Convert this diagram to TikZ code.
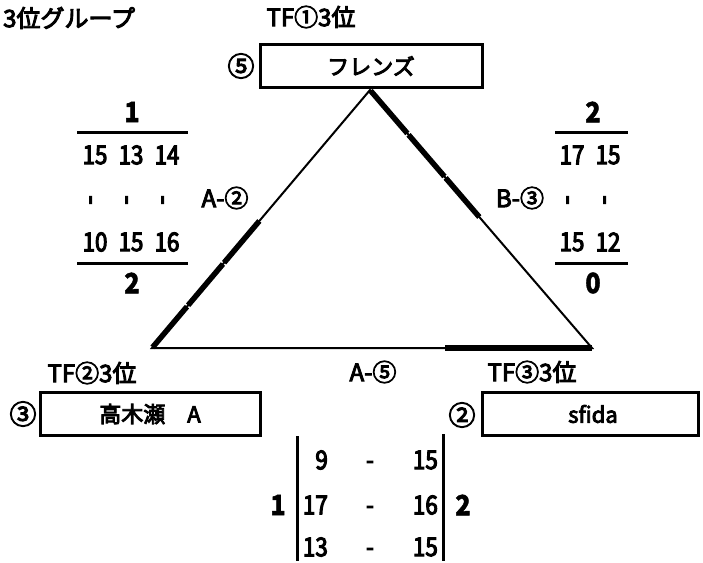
\documentclass[tikz,border=0pt]{standalone}
\usepackage{fontspec}
\newfontfamily\jp[FakeBold=4]{Noto Sans CJK JP}
\newfontfamily\jpn[FakeStretch=0.86,FakeBold=4]{Noto Sans CJK JP}
\newfontfamily\jpnb[FakeStretch=0.9,FakeBold=1.5]{Noto Sans CJK JP}
\usetikzlibrary{calc}
\newcommand\circd[1]{{\fontsize{24pt}{24pt}\selectfont #1}}
\tikzset{
  lbl/.style={font=\jp\fontsize{24pt}{24pt}\selectfont, inner sep=0pt},
  circ/.style={font=\jp\fontsize{27pt}{27pt}\selectfont, inner sep=0pt},
  num/.style={font=\jpn\fontsize{26pt}{26pt}\selectfont, inner sep=0pt},
  bnum/.style={font=\jpnb\bfseries\fontsize{28pt}{28pt}\selectfont, inner sep=0pt},
  team/.style={draw, line width=3pt, minimum height=43pt, inner sep=0pt,
               font=\jp\fontsize{22pt}{22pt}\selectfont},
  edge/.style={line width=2pt},
  heavy/.style={line width=5.5pt, line cap=butt},
  scoreline/.style={line width=3pt},
  tick/.style={font=\jp\fontsize{28pt}{28pt}\selectfont, inner sep=0pt}
}
\begin{document}
\begin{tikzpicture}[x=1pt,y=-1pt]
\useasboundingbox (0,0) rectangle (703,562);

% titles
\node[lbl, anchor=west] (title) at (3,18) {3位グループ};
\node[lbl] (tf1) at (311,17) {TF\circd{①}3位};
\node[lbl] (tf2) at (92,373) {TF\circd{②}3位};
\node[lbl] (tf3) at (532,372) {TF\circd{③}3位};

% teams
\node[team, minimum width=222pt] (fr) at (371,66) {フレンズ};
\node[team, minimum width=220pt] (tk) at (150,414) {高木瀬　A};
\node[team, minimum width=216pt] (sf) at (590,414) {\hspace*{6pt}sfida};
\node[circ] (c5) at (241,66) {⑤};
\node[circ] (c3) at (23,414) {③};
\node[circ] (c2) at (462,415) {②};

% triangle
\coordinate (T) at (370,90);
\coordinate (L) at (152,348);
\coordinate (R) at (592,348);
\draw[edge, line join=miter] (T) -- (L) -- (R) -- cycle;
\foreach \a/\b in {0/0.163, 0.163/0.328, 0.328/0.495}
  \draw[heavy, shorten <=0.9pt, shorten >=0.9pt] ($(L)!\a!(T)$) -- ($(L)!\b!(T)$);
\foreach \a/\b in {0/0.171, 0.171/0.338, 0.338/0.495}
  \draw[heavy, shorten <=0.9pt, shorten >=0.9pt] ($(T)!\a!(R)$) -- ($(T)!\b!(R)$);
\draw[heavy] ($(R)!0.334!(L)$) -- (R);

% match labels
\node[lbl] (mA2) at (225,198) {A-\circd{②}};
\node[lbl] (mB3) at (520,198) {B-\circd{③}};
\node[lbl] (mA5) at (373,372) {A-\circd{⑤}};

% left score block
\node[bnum] (ls1) at (132,112) {1};
\draw[scoreline] (77,132) -- (188,132);
\node[num] (l11) at (95,155) {15};
\node[num] (l12) at (131,155) {13};
\node[num] (l13) at (167,155) {14};
\node[tick] (lt1) at (94,200) {\rotatebox{90}{-}};
\node[tick] (lt2) at (130,200) {\rotatebox{90}{-}};
\node[tick] (lt3) at (166,200) {\rotatebox{90}{-}};
\node[num] (l21) at (95,242) {10};
\node[num] (l22) at (131,242) {15};
\node[num] (l23) at (167,242) {16};
\draw[scoreline] (77,263) -- (188,263);
\node[bnum] (ls2) at (132,283) {2};

% right score block
\node[bnum] (rs1) at (593,112) {2};
\draw[scoreline] (555,132) -- (628,132);
\node[num] (r11) at (572,155) {17};
\node[num] (r12) at (608,155) {15};
\node[tick] (rt1) at (571,200) {\rotatebox{90}{-}};
\node[tick] (rt2) at (608,200) {\rotatebox{90}{-}};
\node[num] (r21) at (572,242) {15};
\node[num] (r22) at (608,242) {12};
\draw[scoreline] (555,263) -- (628,263);
\node[bnum] (rs2) at (593,283) {0};

% bottom score block
\draw[scoreline] (297,436) -- (297,561);
\draw[scoreline] (443,434) -- (443,561);
\node[bnum] (bs1) at (278,505) {1};
\node[bnum] (bs2) at (463,505) {2};
\node[num, anchor=east] (b11) at (328,460) {9};
\node[num] (b12) at (370,460) {\vphantom{0}-};
\node[num, anchor=east] (b13) at (438,460) {15};
\node[num, anchor=east] (b21) at (328,505) {17};
\node[num] (b22) at (370,505) {\vphantom{0}-};
\node[num, anchor=east] (b23) at (438,505) {16};
\node[num, anchor=east] (b31) at (328,547) {13};
\node[num] (b32) at (370,547) {\vphantom{0}-};
\node[num, anchor=east] (b33) at (438,547) {15};
\end{tikzpicture}
\end{document}
